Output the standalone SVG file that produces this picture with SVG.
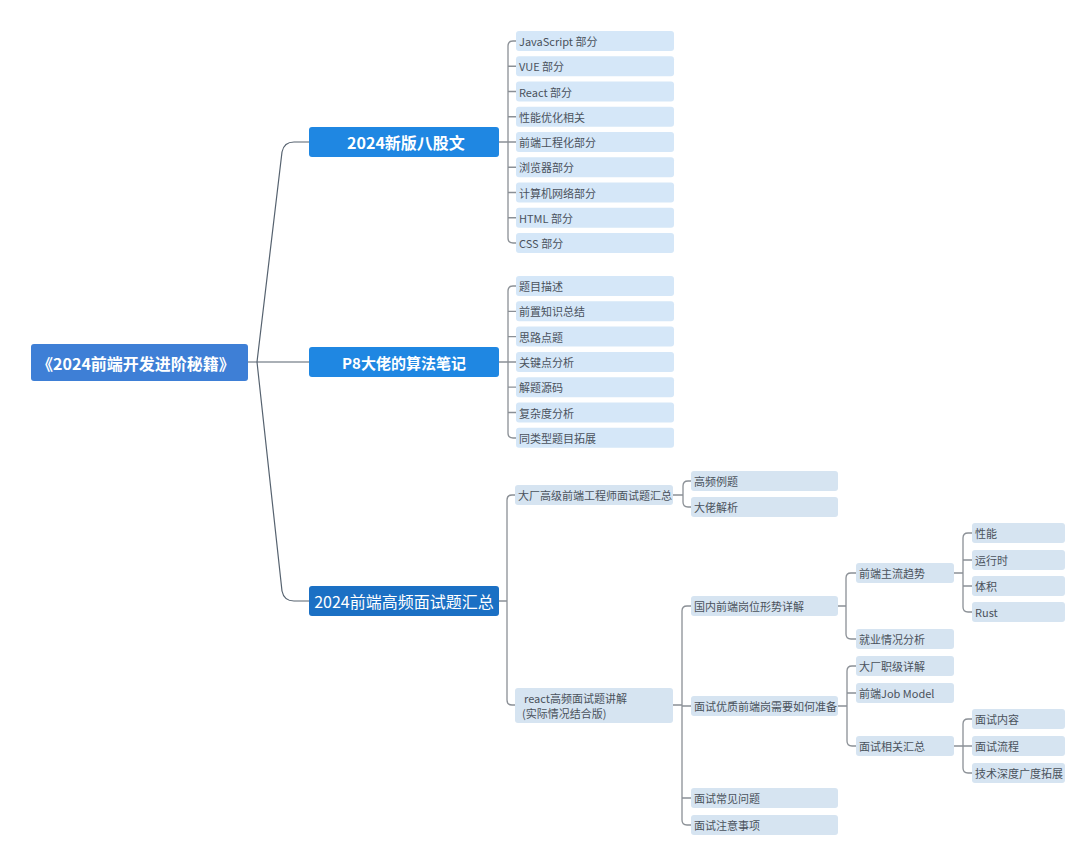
<svg xmlns="http://www.w3.org/2000/svg" width="1080" height="852" viewBox="0 0 1080 852">
<style>
text{font-family:"Noto Sans CJK SC","Noto Sans",sans-serif;dominant-baseline:central}
.root{fill:#3e7fd6}
.l1{fill:#1f87e2}
.l1d{fill:#1b70c4}
.lt{fill:#fff;font-weight:bold;text-anchor:middle}
.c{fill:#d5e7f8}
.g{fill:#d6e4f1}
.t{fill:#4a525c;font-size:11px}
.main{fill:none;stroke:#56626f;stroke-width:1.2}
.br{fill:none;stroke:#8b9096;stroke-width:1.3}
</style>
<rect width="1080" height="852" fill="#fff"/>
<g id="connectors">
<path class="main" d="M248,362 H257 L282,152 Q284,142 294,142 H309 M257,362 H309 M257,362 L282,591 Q284,601 294,601 H309"/>
<path class="br" d="M498,142 H508 M516,41 H513 Q508,41 508,46 V238 Q508,243 513,243 H516 M508,66.25 H516 M508,91.5 H516 M508,116.75 H516 M508,142 H516 M508,167.25 H516 M508,192.5 H516 M508,217.75 H516"/>
<path class="br" d="M498,362 H508 M516,286 H513 Q508,286 508,291 V433 Q508,438 513,438 H516 M508,311.3 H516 M508,336.6 H516 M508,362 H516 M508,387.2 H516 M508,412.5 H516"/>
<path class="br" d="M498,601 H507 M515,495 H512 Q507,495 507,500 V700 Q507,705 512,705 H515"/>
<path class="br" d="M673,495 H683 M691,481 H688 Q683,481 683,486 V502 Q683,507 688,507 H691"/>
<path class="br" d="M673,705 H682 M691,606 H687 Q682,606 682,611 V820 Q682,825 687,825 H691 M682,706 H691 M682,798 H691"/>
<path class="br" d="M838,606 H846 M856,573 H851 Q846,573 846,578 V634 Q846,639 851,639 H856"/>
<path class="br" d="M954,573 H963 M972,533 H968 Q963,533 963,538 V607 Q963,612 968,612 H972 M963,560 H972 M963,586 H972"/>
<path class="br" d="M838,706 H847 M856,666 H852 Q847,666 847,671 V741 Q847,746 852,746 H856 M847,693 H856"/>
<path class="br" d="M954,746 H963 M972,719 H968 Q963,719 963,724 V768 Q963,773 968,773 H972 M963,746 H972"/>
</g>
<g id="root"><rect class="root" x="31" y="344" width="217" height="37" rx="3"/><text class="lt" x="136" y="362.5" font-size="16">《2024前端开发进阶秘籍》</text></g>
<g id="n-bagu"><rect class="l1" x="309" y="127" width="190" height="30" rx="3"/><text class="lt" x="406" y="142" font-size="16">2024新版八股文</text></g>
<g id="n-p8"><rect class="l1" x="309" y="347" width="190" height="30" rx="3"/><text class="lt" x="404" y="362" font-size="15">P8大佬的算法笔记</text></g>
<g id="n-ms"><rect class="l1d" x="309" y="586" width="190" height="30" rx="3"/><text x="404" y="601" font-size="16" fill="#fff" text-anchor="middle">2024前端高频面试题汇总</text></g>

<g id="b1"><rect class="c" x="516" y="31" width="158" height="20" rx="3"/><text class="t" x="519" y="41">JavaScript 部分</text></g>
<g id="b2"><rect class="c" x="516" y="56.25" width="158" height="20" rx="3"/><text class="t" x="519" y="66.25">VUE 部分</text></g>
<g id="b3"><rect class="c" x="516" y="81.5" width="158" height="20" rx="3"/><text class="t" x="519" y="91.5">React 部分</text></g>
<g id="b4"><rect class="c" x="516" y="106.75" width="158" height="20" rx="3"/><text class="t" x="519" y="116.75">性能优化相关</text></g>
<g id="b5"><rect class="c" x="516" y="132" width="158" height="20" rx="3"/><text class="t" x="519" y="142">前端工程化部分</text></g>
<g id="b6"><rect class="c" x="516" y="157.25" width="158" height="20" rx="3"/><text class="t" x="519" y="167.25">浏览器部分</text></g>
<g id="b7"><rect class="c" x="516" y="182.5" width="158" height="20" rx="3"/><text class="t" x="519" y="192.5">计算机网络部分</text></g>
<g id="b8"><rect class="c" x="516" y="207.75" width="158" height="20" rx="3"/><text class="t" x="519" y="217.75">HTML 部分</text></g>
<g id="b9"><rect class="c" x="516" y="233" width="158" height="20" rx="3"/><text class="t" x="519" y="243">CSS 部分</text></g>

<g id="p1"><rect class="c" x="516" y="276" width="158" height="20" rx="3"/><text class="t" x="519" y="286">题目描述</text></g>
<g id="p2"><rect class="c" x="516" y="301.3" width="158" height="20" rx="3"/><text class="t" x="519" y="311.3">前置知识总结</text></g>
<g id="p3"><rect class="c" x="516" y="326.6" width="158" height="20" rx="3"/><text class="t" x="519" y="336.6">思路点题</text></g>
<g id="p4"><rect class="c" x="516" y="352" width="158" height="20" rx="3"/><text class="t" x="519" y="362">关键点分析</text></g>
<g id="p5"><rect class="c" x="516" y="377.2" width="158" height="20" rx="3"/><text class="t" x="519" y="387.2">解题源码</text></g>
<g id="p6"><rect class="c" x="516" y="402.5" width="158" height="20" rx="3"/><text class="t" x="519" y="412.5">复杂度分析</text></g>
<g id="p7"><rect class="c" x="516" y="427.8" width="158" height="20" rx="3"/><text class="t" x="519" y="437.8">同类型题目拓展</text></g>

<g id="m1"><rect class="g" x="515" y="485" width="158" height="20" rx="3"/><text class="t" x="518" y="495">大厂高级前端工程师面试题汇总</text></g>
<g id="m1a"><rect class="g" x="691" y="471" width="147" height="20" rx="3"/><text class="t" x="694" y="481">高频例题</text></g>
<g id="m1b"><rect class="g" x="691" y="497" width="147" height="20" rx="3"/><text class="t" x="694" y="507">大佬解析</text></g>

<g id="m2"><rect class="g" x="515" y="688" width="158" height="35" rx="3"/><text class="t" x="524" y="698">react高频面试题讲解</text><text class="t" x="522" y="713">(实际情况结合版)</text></g>
<g id="m2a"><rect class="g" x="691" y="596" width="147" height="20" rx="3"/><text class="t" x="694" y="606">国内前端岗位形势详解</text></g>
<g id="m2b"><rect class="g" x="691" y="696" width="147" height="20" rx="3"/><text class="t" x="694" y="706">面试优质前端岗需要如何准备</text></g>
<g id="m2c"><rect class="g" x="691" y="788" width="147" height="20" rx="3"/><text class="t" x="694" y="798">面试常见问题</text></g>
<g id="m2d"><rect class="g" x="691" y="815" width="147" height="20" rx="3"/><text class="t" x="694" y="825">面试注意事项</text></g>

<g id="q1"><rect class="g" x="856" y="563" width="98" height="20" rx="3"/><text class="t" x="859" y="573">前端主流趋势</text></g>
<g id="q2"><rect class="g" x="856" y="629" width="98" height="20" rx="3"/><text class="t" x="859" y="639">就业情况分析</text></g>
<g id="r1"><rect class="g" x="972" y="523" width="93" height="20" rx="3"/><text class="t" x="975" y="533">性能</text></g>
<g id="r2"><rect class="g" x="972" y="550" width="93" height="20" rx="3"/><text class="t" x="975" y="560">运行时</text></g>
<g id="r3"><rect class="g" x="972" y="576" width="93" height="20" rx="3"/><text class="t" x="975" y="586">体积</text></g>
<g id="r4"><rect class="g" x="972" y="602" width="93" height="20" rx="3"/><text class="t" x="975" y="612">Rust</text></g>

<g id="s1"><rect class="g" x="856" y="656" width="98" height="20" rx="3"/><text class="t" x="859" y="666">大厂职级详解</text></g>
<g id="s2"><rect class="g" x="856" y="683" width="98" height="20" rx="3"/><text class="t" x="859" y="693">前端Job Model</text></g>
<g id="s3"><rect class="g" x="856" y="736" width="98" height="20" rx="3"/><text class="t" x="859" y="746">面试相关汇总</text></g>
<g id="u1"><rect class="g" x="972" y="709" width="93" height="20" rx="3"/><text class="t" x="975" y="719">面试内容</text></g>
<g id="u2"><rect class="g" x="972" y="736" width="93" height="20" rx="3"/><text class="t" x="975" y="746">面试流程</text></g>
<g id="u3"><rect class="g" x="972" y="763" width="93" height="20" rx="3"/><text class="t" x="975" y="773">技术深度广度拓展</text></g>
</svg>
